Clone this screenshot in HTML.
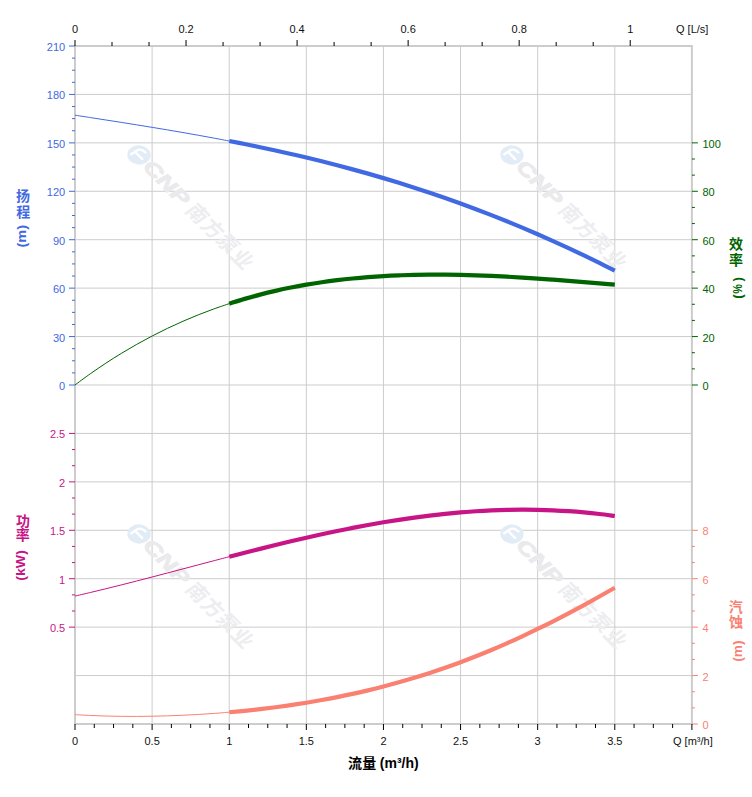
<!DOCTYPE html>
<html><head><meta charset="utf-8"><title>Pump curve</title>
<style>html,body{margin:0;padding:0;background:#fff}svg{display:block}text{font-family:"Liberation Sans","Noto Sans CJK SC",sans-serif}</style></head><body>
<svg width="752" height="797" viewBox="0 0 752 797">
<rect width="752" height="797" fill="#fff"/>
<g stroke="#cccccc" stroke-width="1" fill="none">
<line x1="152.11" y1="46" x2="152.11" y2="724"/>
<line x1="229.22" y1="46" x2="229.22" y2="724"/>
<line x1="306.34" y1="46" x2="306.34" y2="724"/>
<line x1="383.45" y1="46" x2="383.45" y2="724"/>
<line x1="460.56" y1="46" x2="460.56" y2="724"/>
<line x1="537.67" y1="46" x2="537.67" y2="724"/>
<line x1="614.79" y1="46" x2="614.79" y2="724"/>
<line x1="75" y1="94.43" x2="691.9" y2="94.43"/>
<line x1="75" y1="142.86" x2="691.9" y2="142.86"/>
<line x1="75" y1="191.29" x2="691.9" y2="191.29"/>
<line x1="75" y1="239.71" x2="691.9" y2="239.71"/>
<line x1="75" y1="288.14" x2="691.9" y2="288.14"/>
<line x1="75" y1="336.57" x2="691.9" y2="336.57"/>
<line x1="75" y1="385" x2="691.9" y2="385"/>
<line x1="75" y1="433.43" x2="691.9" y2="433.43"/>
<line x1="75" y1="481.86" x2="691.9" y2="481.86"/>
<line x1="75" y1="530.29" x2="691.9" y2="530.29"/>
<line x1="75" y1="578.71" x2="691.9" y2="578.71"/>
<line x1="75" y1="627.14" x2="691.9" y2="627.14"/>
<line x1="75" y1="675.57" x2="691.9" y2="675.57"/>
</g>
<g transform="translate(139 155) rotate(45)"><g transform="skewX(-11)"><circle cx="0" cy="0" r="10.6" fill="#e2ecf6"/><path d="M6.2 0.6 H-4.5 M-5 6 V-1.5 Q-5 -6.3 2.5 -6.3" stroke="#fff" stroke-width="2.3" fill="none" stroke-linejoin="round"/></g><text transform="translate(11.0 6.8) scale(1.36 1)" font-size="19.5" font-weight="bold" font-style="italic" fill="#eaeaec" stroke="#eaeaec" stroke-width="0.9">CNP</text><g fill="#ededef" transform="skewX(-10)" font-size="20.3" font-weight="bold"><text x="72.85" y="7.37">南</text><text x="94.31" y="7.51">方</text><text x="115.49" y="7.01">泵</text><text x="136.73" y="7.76">业</text></g></g>
<g transform="translate(512 155) rotate(45)"><g transform="skewX(-11)"><circle cx="0" cy="0" r="10.6" fill="#e2ecf6"/><path d="M6.2 0.6 H-4.5 M-5 6 V-1.5 Q-5 -6.3 2.5 -6.3" stroke="#fff" stroke-width="2.3" fill="none" stroke-linejoin="round"/></g><text transform="translate(11.0 6.8) scale(1.36 1)" font-size="19.5" font-weight="bold" font-style="italic" fill="#eaeaec" stroke="#eaeaec" stroke-width="0.9">CNP</text><g fill="#ededef" transform="skewX(-10)" font-size="20.3" font-weight="bold"><text x="72.85" y="7.37">南</text><text x="94.31" y="7.51">方</text><text x="115.49" y="7.01">泵</text><text x="136.73" y="7.76">业</text></g></g>
<g transform="translate(139 534) rotate(45)"><g transform="skewX(-11)"><circle cx="0" cy="0" r="10.6" fill="#e2ecf6"/><path d="M6.2 0.6 H-4.5 M-5 6 V-1.5 Q-5 -6.3 2.5 -6.3" stroke="#fff" stroke-width="2.3" fill="none" stroke-linejoin="round"/></g><text transform="translate(11.0 6.8) scale(1.36 1)" font-size="19.5" font-weight="bold" font-style="italic" fill="#eaeaec" stroke="#eaeaec" stroke-width="0.9">CNP</text><g fill="#ededef" transform="skewX(-10)" font-size="20.3" font-weight="bold"><text x="72.85" y="7.37">南</text><text x="94.31" y="7.51">方</text><text x="115.49" y="7.01">泵</text><text x="136.73" y="7.76">业</text></g></g>
<g transform="translate(512 534) rotate(45)"><g transform="skewX(-11)"><circle cx="0" cy="0" r="10.6" fill="#e2ecf6"/><path d="M6.2 0.6 H-4.5 M-5 6 V-1.5 Q-5 -6.3 2.5 -6.3" stroke="#fff" stroke-width="2.3" fill="none" stroke-linejoin="round"/></g><text transform="translate(11.0 6.8) scale(1.36 1)" font-size="19.5" font-weight="bold" font-style="italic" fill="#eaeaec" stroke="#eaeaec" stroke-width="0.9">CNP</text><g fill="#ededef" transform="skewX(-10)" font-size="20.3" font-weight="bold"><text x="72.85" y="7.37">南</text><text x="94.31" y="7.51">方</text><text x="115.49" y="7.01">泵</text><text x="136.73" y="7.76">业</text></g></g>
<rect x="75" y="46" width="616.9" height="678" fill="none" stroke="#cccccc" stroke-width="2"/>
<path d="M75 115.19 C77.57 115.59 85.28 116.78 90.42 117.58 C95.56 118.37 100.7 119.17 105.84 119.97 C110.99 120.78 116.13 121.58 121.27 122.39 C126.41 123.2 131.55 124.02 136.69 124.85 C141.83 125.67 146.97 126.51 152.11 127.35 C157.25 128.19 162.39 129.05 167.54 129.91 C172.68 130.78 177.82 131.66 182.96 132.55 C188.1 133.45 193.24 134.35 198.38 135.27 C203.52 136.2 208.66 137.14 213.8 138.09 C218.94 139.05 226.65 140.53 229.22 141.02" fill="none" stroke="#4169E1" stroke-width="1.0"/>
<path d="M229.22 141.02 C231.8 141.52 239.51 143.02 244.65 144.06 C249.79 145.09 254.93 146.14 260.07 147.22 C265.21 148.3 270.35 149.4 275.49 150.52 C280.63 151.65 285.77 152.79 290.91 153.97 C296.06 155.14 301.2 156.34 306.34 157.57 C311.48 158.79 316.62 160.04 321.76 161.32 C326.9 162.6 332.04 163.91 337.18 165.25 C342.32 166.59 347.46 167.95 352.61 169.35 C357.75 170.75 362.89 172.18 368.03 173.64 C373.17 175.09 378.31 176.58 383.45 178.11 C388.59 179.63 393.73 181.18 398.87 182.77 C404.01 184.36 409.15 185.98 414.3 187.64 C419.44 189.29 424.58 190.98 429.72 192.71 C434.86 194.43 440 196.19 445.14 197.99 C450.28 199.78 455.42 201.61 460.56 203.48 C465.7 205.34 470.84 207.24 475.99 209.18 C481.13 211.12 486.27 213.1 491.41 215.11 C496.55 217.12 501.69 219.17 506.83 221.26 C511.97 223.35 517.11 225.47 522.25 227.64 C527.39 229.8 532.53 232 537.67 234.24 C542.82 236.48 547.96 238.75 553.1 241.07 C558.24 243.38 563.38 245.73 568.52 248.13 C573.66 250.52 578.8 252.95 583.94 255.41 C589.08 257.88 594.22 260.39 599.37 262.93 C604.51 265.48 612.22 269.39 614.79 270.68" fill="none" stroke="#4169E1" stroke-width="4.2" stroke-linecap="butt"/>
<path d="M75 384.96 C77.57 383.08 85.28 377.32 90.42 373.69 C95.56 370.06 100.7 366.57 105.84 363.19 C110.99 359.81 116.13 356.56 121.27 353.43 C126.41 350.29 131.55 347.28 136.69 344.38 C141.83 341.48 146.97 338.69 152.11 336.02 C157.25 333.34 162.39 330.78 167.54 328.32 C172.68 325.86 177.82 323.51 182.96 321.26 C188.1 319.01 193.24 316.86 198.38 314.81 C203.52 312.76 208.66 310.81 213.8 308.95 C218.94 307.09 226.65 304.53 229.22 303.65" fill="none" stroke="#006400" stroke-width="1.0"/>
<path d="M229.22 303.65 C231.8 302.86 239.51 300.39 244.65 298.89 C249.79 297.38 254.93 295.97 260.07 294.63 C265.21 293.29 270.35 292.04 275.49 290.86 C280.63 289.69 285.77 288.59 290.91 287.56 C296.06 286.53 301.2 285.58 306.34 284.69 C311.48 283.8 316.62 282.99 321.76 282.24 C326.9 281.48 332.04 280.8 337.18 280.17 C342.32 279.54 347.46 278.98 352.61 278.47 C357.75 277.96 362.89 277.51 368.03 277.12 C373.17 276.72 378.31 276.37 383.45 276.08 C388.59 275.78 393.73 275.54 398.87 275.34 C404.01 275.14 409.15 274.99 414.3 274.88 C419.44 274.76 424.58 274.7 429.72 274.67 C434.86 274.63 440 274.64 445.14 274.69 C450.28 274.73 455.42 274.81 460.56 274.92 C465.7 275.03 470.84 275.18 475.99 275.35 C481.13 275.52 486.27 275.72 491.41 275.94 C496.55 276.17 501.69 276.42 506.83 276.69 C511.97 276.96 517.11 277.26 522.25 277.57 C527.39 277.88 532.53 278.22 537.67 278.57 C542.82 278.91 547.96 279.28 553.1 279.66 C558.24 280.04 563.38 280.43 568.52 280.83 C573.66 281.23 578.8 281.65 583.94 282.07 C589.08 282.49 594.22 282.92 599.37 283.35 C604.51 283.79 612.22 284.45 614.79 284.67" fill="none" stroke="#006400" stroke-width="4.2" stroke-linecap="butt"/>
<path d="M75 596.06 C77.57 595.47 85.28 593.7 90.42 592.48 C95.56 591.27 100.7 590.02 105.84 588.76 C110.99 587.5 116.13 586.22 121.27 584.93 C126.41 583.64 131.55 582.33 136.69 581.01 C141.83 579.69 146.97 578.35 152.11 577.01 C157.25 575.67 162.39 574.32 167.54 572.97 C172.68 571.61 177.82 570.25 182.96 568.9 C188.1 567.54 193.24 566.17 198.38 564.82 C203.52 563.46 208.66 562.1 213.8 560.75 C218.94 559.4 226.65 557.39 229.22 556.72" fill="none" stroke="#C71585" stroke-width="1.0"/>
<path d="M229.22 556.72 C231.8 556.06 239.51 554.06 244.65 552.74 C249.79 551.43 254.93 550.12 260.07 548.84 C265.21 547.55 270.35 546.28 275.49 545.02 C280.63 543.77 285.77 542.53 290.91 541.31 C296.06 540.1 301.2 538.9 306.34 537.73 C311.48 536.56 316.62 535.41 321.76 534.29 C326.9 533.17 332.04 532.08 337.18 531.01 C342.32 529.95 347.46 528.91 352.61 527.91 C357.75 526.91 362.89 525.94 368.03 525 C373.17 524.07 378.31 523.16 383.45 522.3 C388.59 521.44 393.73 520.61 398.87 519.82 C404.01 519.03 409.15 518.28 414.3 517.58 C419.44 516.87 424.58 516.21 429.72 515.59 C434.86 514.97 440 514.4 445.14 513.87 C450.28 513.34 455.42 512.86 460.56 512.42 C465.7 511.99 470.84 511.61 475.99 511.27 C481.13 510.94 486.27 510.66 491.41 510.43 C496.55 510.2 501.69 510.02 506.83 509.9 C511.97 509.78 517.11 509.71 522.25 509.7 C527.39 509.69 532.53 509.73 537.67 509.84 C542.82 509.94 547.96 510.1 553.1 510.33 C558.24 510.55 563.38 510.83 568.52 511.18 C573.66 511.53 578.8 511.93 583.94 512.4 C589.08 512.87 594.22 513.41 599.37 514.01 C604.51 514.61 612.22 515.67 614.79 516" fill="none" stroke="#C71585" stroke-width="4.2" stroke-linecap="butt"/>
<path d="M75 714.65 C77.57 714.79 85.28 715.25 90.42 715.48 C95.56 715.71 100.7 715.89 105.84 716.03 C110.99 716.18 116.13 716.27 121.27 716.33 C126.41 716.39 131.55 716.41 136.69 716.4 C141.83 716.38 146.97 716.32 152.11 716.23 C157.25 716.14 162.39 716.01 167.54 715.85 C172.68 715.69 177.82 715.49 182.96 715.26 C188.1 715.03 193.24 714.76 198.38 714.46 C203.52 714.16 208.66 713.82 213.8 713.45 C218.94 713.08 226.65 712.43 229.22 712.23" fill="none" stroke="#FA8072" stroke-width="1.0"/>
<path d="M229.22 712.23 C231.8 711.99 239.51 711.31 244.65 710.79 C249.79 710.28 254.93 709.72 260.07 709.13 C265.21 708.54 270.35 707.91 275.49 707.23 C280.63 706.56 285.77 705.85 290.91 705.09 C296.06 704.34 301.2 703.54 306.34 702.7 C311.48 701.86 316.62 700.97 321.76 700.04 C326.9 699.11 332.04 698.13 337.18 697.1 C342.32 696.07 347.46 695 352.61 693.87 C357.75 692.74 362.89 691.57 368.03 690.34 C373.17 689.11 378.31 687.83 383.45 686.49 C388.59 685.15 393.73 683.76 398.87 682.31 C404.01 680.87 409.15 679.36 414.3 677.8 C419.44 676.24 424.58 674.62 429.72 672.95 C434.86 671.27 440 669.53 445.14 667.74 C450.28 665.94 455.42 664.09 460.56 662.17 C465.7 660.26 470.84 658.28 475.99 656.25 C481.13 654.21 486.27 652.12 491.41 649.96 C496.55 647.81 501.69 645.59 506.83 643.32 C511.97 641.04 517.11 638.71 522.25 636.32 C527.39 633.93 532.53 631.48 537.67 628.98 C542.82 626.48 547.96 623.92 553.1 621.31 C558.24 618.7 563.38 616.04 568.52 613.33 C573.66 610.62 578.8 607.85 583.94 605.05 C589.08 602.25 594.22 599.39 599.37 596.51 C604.51 593.62 612.22 589.19 614.79 587.73" fill="none" stroke="#FA8072" stroke-width="4.2" stroke-linecap="butt"/>
<path d="M75 385h-6M75 372.89h-3M75 360.79h-3M75 348.68h-3M75 336.57h-6M75 324.46h-3M75 312.36h-3M75 300.25h-3M75 288.14h-6M75 276.04h-3M75 263.93h-3M75 251.82h-3M75 239.71h-6M75 227.61h-3M75 215.5h-3M75 203.39h-3M75 191.29h-6M75 179.18h-3M75 167.07h-3M75 154.96h-3M75 142.86h-6M75 130.75h-3M75 118.64h-3M75 106.54h-3M75 94.43h-6M75 82.32h-3M75 70.21h-3M75 58.11h-3M75 46h-6" stroke="#4169E1" stroke-width="1" fill="none"/>
<path d="M75 627.14h-6M75 611h-3M75 594.86h-3M75 578.71h-6M75 562.57h-3M75 546.43h-3M75 530.29h-6M75 514.14h-3M75 498h-3M75 481.86h-6M75 465.71h-3M75 449.57h-3M75 433.43h-6" stroke="#C71585" stroke-width="1" fill="none"/>
<path d="M691.9 385h6M691.9 368.86h3M691.9 352.71h3M691.9 336.57h6M691.9 320.43h3M691.9 304.29h3M691.9 288.14h6M691.9 272h3M691.9 255.86h3M691.9 239.71h6M691.9 223.57h3M691.9 207.43h3M691.9 191.29h6M691.9 175.14h3M691.9 159h3M691.9 142.86h6" stroke="#006400" stroke-width="1" fill="none"/>
<path d="M691.9 724h6M691.9 707.86h3M691.9 691.71h3M691.9 675.57h6M691.9 659.43h3M691.9 643.29h3M691.9 627.14h6M691.9 611h3M691.9 594.86h3M691.9 578.71h6M691.9 562.57h3M691.9 546.43h3M691.9 530.29h6" stroke="#FA8072" stroke-width="1" fill="none"/>
<path d="M75 46v-6M112.01 46v-4M149.03 46v-4M186.04 46v-6M223.06 46v-4M260.07 46v-4M297.08 46v-6M334.1 46v-4M371.11 46v-4M408.13 46v-6M445.14 46v-4M482.15 46v-4M519.17 46v-6M556.18 46v-4M593.2 46v-4M630.21 46v-6" stroke="#000" stroke-width="1" fill="none"/>
<path d="M75 724v6M94.28 724v4M113.56 724v4M132.83 724v4M152.11 724v6M171.39 724v4M190.67 724v4M209.95 724v4M229.22 724v6M248.5 724v4M267.78 724v4M287.06 724v4M306.34 724v6M325.62 724v4M344.89 724v4M364.17 724v4M383.45 724v6M402.73 724v4M422.01 724v4M441.28 724v4M460.56 724v6M479.84 724v4M499.12 724v4M518.4 724v4M537.67 724v6M556.95 724v4M576.23 724v4M595.51 724v4M614.79 724v6M634.07 724v4M653.34 724v4M672.62 724v4M691.9 724v6" stroke="#000" stroke-width="1" fill="none"/>
<g font-size="11" fill="#4169E1" text-anchor="end">
<text x="65.2" y="390">0</text>
<text x="65.2" y="341.57">30</text>
<text x="65.2" y="293.14">60</text>
<text x="65.2" y="244.71">90</text>
<text x="65.2" y="196.29">120</text>
<text x="65.2" y="147.86">150</text>
<text x="65.2" y="99.43">180</text>
<text x="65.2" y="51">210</text>
</g>
<g font-size="11" fill="#C71585" text-anchor="end">
<text x="65.2" y="632.14">0.5</text>
<text x="65.2" y="583.71">1</text>
<text x="65.2" y="535.29">1.5</text>
<text x="65.2" y="486.86">2</text>
<text x="65.2" y="438.43">2.5</text>
</g>
<g font-size="11" fill="#006400">
<text x="702.4" y="390">0</text>
<text x="702.4" y="341.57">20</text>
<text x="702.4" y="293.14">40</text>
<text x="702.4" y="244.71">60</text>
<text x="702.4" y="196.29">80</text>
<text x="702.4" y="147.86">100</text>
</g>
<g font-size="11" fill="#FA8072">
<text x="702.4" y="729">0</text>
<text x="702.4" y="680.57">2</text>
<text x="702.4" y="632.14">4</text>
<text x="702.4" y="583.71">6</text>
<text x="702.4" y="535.29">8</text>
</g>
<g font-size="11" fill="#111" text-anchor="middle">
<text x="75" y="33">0</text>
<text x="186.04" y="33">0.2</text>
<text x="297.08" y="33">0.4</text>
<text x="408.13" y="33">0.6</text>
<text x="519.17" y="33">0.8</text>
<text x="630.21" y="33">1</text>
<text x="75" y="745">0</text>
<text x="152.11" y="745">0.5</text>
<text x="229.22" y="745">1</text>
<text x="306.34" y="745">1.5</text>
<text x="383.45" y="745">2</text>
<text x="460.56" y="745">2.5</text>
<text x="537.67" y="745">3</text>
<text x="614.79" y="745">3.5</text>
</g>
<text x="676" y="33" font-size="11" fill="#111">Q [L/s]</text>
<text x="673" y="745" font-size="11" fill="#111">Q [m³/h]</text>
<g fill="#4169E1" font-size="13.5" font-weight="bold"><text x="16" y="201.27" font-size="14">扬</text><text x="16.18" y="216.55" font-size="14">程</text><text transform="translate(25.9 247.6) rotate(-90)" textLength="22.7" lengthAdjust="spacingAndGlyphs">(m)</text></g>
<g fill="#006400" font-size="13.5" font-weight="bold"><text x="728.93" y="249.26" font-size="14">效</text><text x="728.91" y="264.87" font-size="14">率</text><g transform="translate(741.9 298.7) rotate(-90)"><text x="0" y="0">(</text><text transform="translate(4.86 0) scale(0.804 1)">%</text><text x="21.7" y="0" text-anchor="end">)</text></g></g>
<g fill="#C71585" font-size="13.5" font-weight="bold"><text x="15.97" y="525.5" font-size="14">功</text><text x="15.76" y="540.37" font-size="14">率</text><text transform="translate(24.9 580.7) rotate(-90)" textLength="30.6" lengthAdjust="spacingAndGlyphs">(kW)</text></g>
<g fill="#FA8072" font-size="13.5" font-weight="bold"><text x="728.84" y="612.16" font-size="14">汽</text><text x="728.98" y="627.24" font-size="14">蚀</text><text transform="translate(741.9 661.7) rotate(-90)" textLength="21.3" lengthAdjust="spacingAndGlyphs">(m)</text></g>
<g fill="#000" font-size="14" font-weight="bold"><text x="347.89" y="768.22">流</text><text x="362.18" y="768.28">量</text></g>
<text x="379.8" y="767.6" font-size="14" font-weight="bold" fill="#000">(m³/h)</text>
</svg></body></html>
